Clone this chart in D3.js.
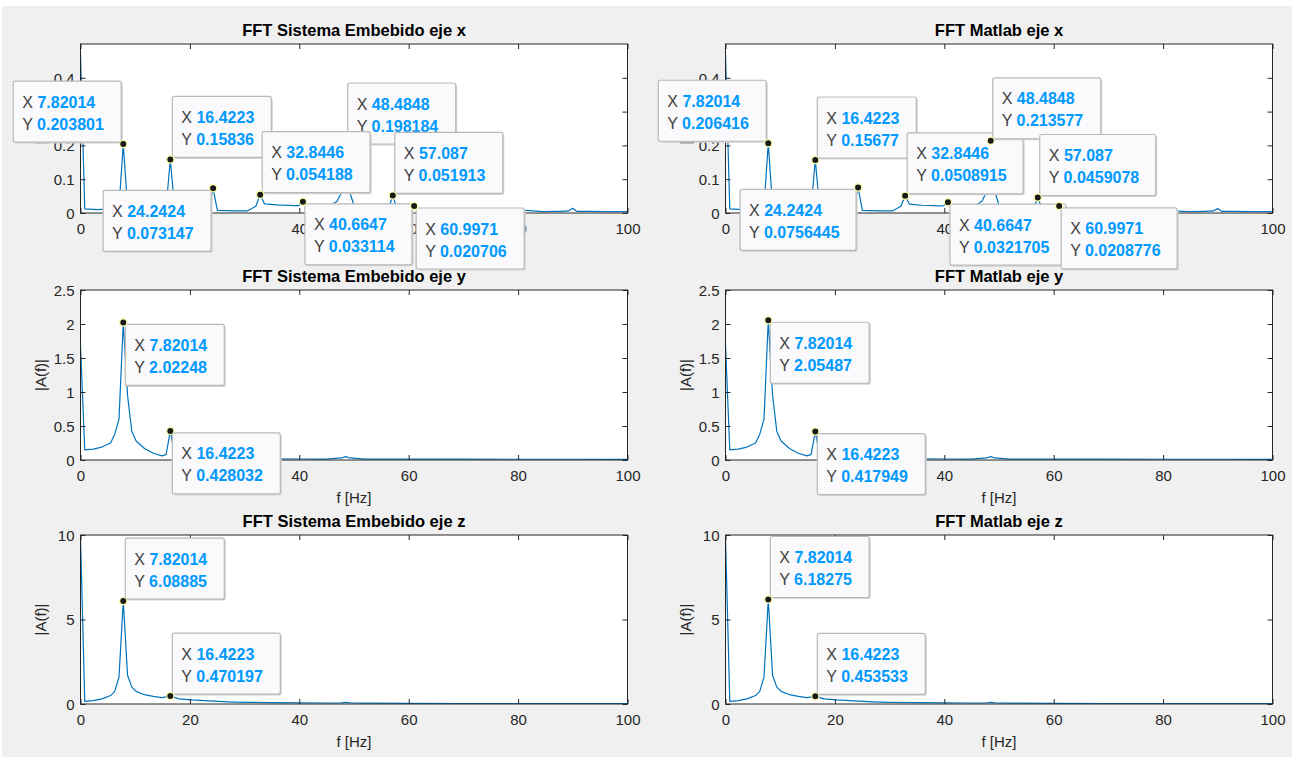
<!DOCTYPE html>
<html lang="en">
<head>
<meta charset="UTF-8">
<title>FFT eje x y z</title>
<script src="https://cdn.jsdelivr.net/npm/d3@7/dist/d3.min.js"></script>
<style>
    html, body { margin: 0; padding: 0; background: #fff; }
    svg text { font-family: "Liberation Sans", Arial, Helvetica, sans-serif; }
</style>
</head>
<body>
<svg id="fig" width="1294" height="757"></svg>
<script>
// ---- data ----
const xTicks = [0, 20, 40, 60, 80, 100];

// eje x
const fX = [0, 0.78, 3.1, 5.5, 7.04, 7.82014, 8.6, 10.9, 13.3, 15.64, 16.4223, 17.2, 20.3, 23.46, 24.2424, 25.02, 28.2, 30.5,
    32.06, 32.8446, 33.63, 36.0, 39.1, 39.88, 40.6647, 41.45, 43.0, 45.4, 46.9, 47.7, 48.4848, 49.26, 50.05, 51.6, 53.2,
    55.5, 56.3, 57.087, 57.87, 59.4, 60.2, 60.9971, 61.8, 64.9, 68.0, 71.9, 75.1, 78.2, 80.6, 81.4, 84.5, 87.6, 89.2,
    89.97, 90.7, 93.1, 96.2, 100];
const aXemb = [0.47, 0.012, 0.01, 0.012, 0.02, 0.203801, 0.02, 0.012, 0.01, 0.015, 0.15836, 0.015, 0.01, 0.012, 0.073147,
    0.008, 0.006, 0.006, 0.02, 0.054188, 0.027, 0.024, 0.022, 0.022, 0.033114, 0.02, 0.015, 0.02, 0.035, 0.06, 0.198184,
    0.06, 0.02, 0.012, 0.01, 0.008, 0.012, 0.051913, 0.012, 0.008, 0.008, 0.020706, 0.006, 0.005, 0.006, 0.004, 0.005,
    0.004, 0.004, 0.008, 0.004, 0.005, 0.006, 0.014, 0.005, 0.005, 0.004, 0.004];
const aXmat = [0.47, 0.012, 0.01, 0.012, 0.02, 0.206416, 0.02, 0.012, 0.01, 0.015, 0.15677, 0.015, 0.01, 0.012, 0.0756445,
    0.008, 0.006, 0.006, 0.02, 0.0508915, 0.026, 0.023, 0.021, 0.022, 0.0321705, 0.02, 0.015, 0.02, 0.035, 0.062, 0.213577,
    0.062, 0.02, 0.012, 0.01, 0.008, 0.012, 0.0459078, 0.012, 0.008, 0.008, 0.0208776, 0.006, 0.005, 0.006, 0.004, 0.005,
    0.004, 0.004, 0.007, 0.004, 0.005, 0.006, 0.013, 0.005, 0.005, 0.004, 0.004];
const tipFX = [7.82014, 16.4223, 24.2424, 32.8446, 40.6647, 48.4848, 57.087, 60.9971];
const tipAXemb = [0.203801, 0.15836, 0.073147, 0.054188, 0.033114, 0.198184, 0.051913, 0.020706];
const tipAXmat = [0.206416, 0.15677, 0.0756445, 0.0508915, 0.0321705, 0.213577, 0.0459078, 0.0208776];
const yTicksX = [0, 0.1, 0.2, 0.3, 0.4];

// eje y
const fY = [0, 0.78, 2.35, 3.9, 5.5, 6.26, 7.04, 7.82014, 8.6, 9.38, 10.17, 11.7, 13.3, 14.9, 15.64, 16.4223, 17.2, 18.0,
    20.3, 25, 30, 35, 40, 45, 47.7, 48.48, 49.26, 52, 60, 70, 80, 90, 100];
const aYemb = [1.68, 0.15, 0.16, 0.19, 0.25, 0.38, 0.6, 2.02248, 0.95, 0.42, 0.28, 0.17, 0.1, 0.06, 0.08, 0.428032, 0.07,
    0.035, 0.025, 0.02, 0.018, 0.016, 0.015, 0.014, 0.03, 0.05, 0.03, 0.013, 0.012, 0.012, 0.011, 0.011, 0.01];
const aYmat = [1.7, 0.15, 0.16, 0.19, 0.25, 0.38, 0.6, 2.05487, 0.96, 0.42, 0.28, 0.17, 0.1, 0.06, 0.08, 0.417949, 0.07,
    0.035, 0.025, 0.02, 0.018, 0.016, 0.015, 0.014, 0.03, 0.05, 0.03, 0.013, 0.012, 0.012, 0.011, 0.011, 0.01];
const tipFY = [7.82014, 16.4223];
const tipAYemb = [2.02248, 0.428032];
const tipAYmat = [2.05487, 0.417949];
const yTicksY = [0, 0.5, 1, 1.5, 2, 2.5];

// eje z
const fZ = [0, 0.78, 2.35, 3.9, 5.5, 6.26, 7.04, 7.82014, 8.6, 9.38, 10.17, 11.7, 13.3, 14.9, 16.4223, 18.0, 20.3, 23.5,
    27, 30, 35, 40, 45, 47.7, 48.48, 49.26, 52, 60, 70, 80, 90, 100];
const aZemb = [9.9, 0.15, 0.2, 0.3, 0.5, 0.75, 1.6, 6.08885, 1.7, 1.0, 0.75, 0.55, 0.45, 0.38, 0.470197, 0.3, 0.24, 0.18,
    0.13, 0.1, 0.08, 0.07, 0.06, 0.07, 0.1, 0.07, 0.05, 0.04, 0.03, 0.03, 0.02, 0.02];
const aZmat = [9.9, 0.15, 0.2, 0.3, 0.5, 0.75, 1.6, 6.18275, 1.7, 1.0, 0.75, 0.55, 0.45, 0.38, 0.453533, 0.3, 0.24, 0.18,
    0.13, 0.1, 0.08, 0.07, 0.06, 0.07, 0.1, 0.07, 0.05, 0.04, 0.03, 0.03, 0.02, 0.02];
const tipFZ = [7.82014, 16.4223];
const tipAZemb = [6.08885, 0.470197];
const tipAZmat = [6.18275, 0.453533];
const yTicksZ = [0, 5, 10];

// ---- layout ----
const cols = [[80.5, 627.5], [725.5, 1272.5]];
const rows = [[44, 213], [290, 460], [535, 704]];

// datatip placement (ul, ur, ll, lr) and draw order per panel
const panels = [
    {title: "FFT Sistema Embebido eje x", c: 0, r: 0, f: fX, a: aXemb, tf: tipFX, ta: tipAXemb, ymax: 0.5, yt: yTicksX,
        xlab: false, dir: ["ul", "ur", "ll", "ur", "lr", "ur", "ur", "lr"], order: [0, 1, 5, 2, 3, 4, 6, 7]},
    {title: "FFT Matlab eje x", c: 1, r: 0, f: fX, a: aXmat, tf: tipFX, ta: tipAXmat, ymax: 0.5, yt: yTicksX,
        xlab: false, dir: ["ul", "ur", "ll", "ur", "lr", "ur", "ur", "lr"], order: [0, 1, 2, 3, 5, 4, 6, 7]},
    {title: "FFT Sistema Embebido eje y", c: 0, r: 1, f: fY, a: aYemb, tf: tipFY, ta: tipAYemb, ymax: 2.5, yt: yTicksY,
        xlab: true, dir: ["lr", "lr"], order: [0, 1]},
    {title: "FFT Matlab eje y", c: 1, r: 1, f: fY, a: aYmat, tf: tipFY, ta: tipAYmat, ymax: 2.5, yt: yTicksY,
        xlab: true, dir: ["lr", "lr"], order: [0, 1]},
    {title: "FFT Sistema Embebido eje z", c: 0, r: 2, f: fZ, a: aZemb, tf: tipFZ, ta: tipAZemb, ymax: 10, yt: yTicksZ,
        xlab: true, dir: ["ur", "ur"], order: [0, 1]},
    {title: "FFT Matlab eje z", c: 1, r: 2, f: fZ, a: aZmat, tf: tipFZ, ta: tipAZmat, ymax: 10, yt: yTicksZ,
        xlab: true, dir: ["ur", "ur"], order: [0, 1]}
];

const svg = d3.select("#fig");
svg.append("rect").attr("x", 2).attr("y", 6).attr("width", 1290).attr("height", 751).attr("fill", "#f0f0f0");

const axisColor = "#262626";
const fmtTick = d3.format("~g");
const fmtTip = d3.format(".6~g");
const tipLayer = [];

panels.forEach((p, i) => {
    const [x0, x1] = cols[p.c];
    const [y0, y1] = rows[p.r];
    const x = d3.scaleLinear().domain([0, 100]).range([x0, x1]);
    const y = d3.scaleLinear().domain([0, p.ymax]).range([y1, y0]);
    const g = svg.append("g");

    g.append("rect").attr("x", x0).attr("y", y0).attr("width", x1 - x0).attr("height", y1 - y0).attr("fill", "#fff");

    g.append("clipPath").attr("id", "clip" + i)
        .append("rect").attr("x", x0).attr("y", y0).attr("width", x1 - x0).attr("height", y1 - y0);

    const pts = p.f.map((f, k) => [f, p.a[k]]);
    g.append("path")
        .datum(pts)
        .attr("clip-path", "url(#clip" + i + ")")
        .attr("fill", "none")
        .attr("stroke", "#0072BD")
        .attr("stroke-width", 1.2)
        .attr("stroke-linejoin", "round")
        .attr("d", d3.line().x(d => x(d[0])).y(d => y(d[1])));

    // ticks inside on all four sides
    const tl = 5;
    const ax = [
        d3.axisBottom(x).tickValues(xTicks).tickSizeInner(-tl).tickSizeOuter(0).tickFormat(fmtTick),
        d3.axisTop(x).tickValues(xTicks).tickSizeInner(-tl).tickSizeOuter(0).tickFormat(""),
        d3.axisLeft(y).tickValues(p.yt).tickSizeInner(-tl).tickSizeOuter(0).tickFormat(fmtTick),
        d3.axisRight(y).tickValues(p.yt).tickSizeInner(-tl).tickSizeOuter(0).tickFormat("")
    ];
    const trans = [[0, y1], [0, y0], [x0, 0], [x1, 0]];
    ax.forEach((a, k) => {
        const ag = g.append("g").attr("transform", `translate(${trans[k][0]},${trans[k][1]})`).call(a);
        ag.select(".domain").remove();
        ag.selectAll("line").attr("stroke", axisColor);
        ag.selectAll("text").attr("fill", axisColor).style("font-size", "15px");
        if (k === 0) ag.selectAll("text").attr("dy", null).attr("y", 21);
        if (k === 2) ag.selectAll("text").attr("x", -6).attr("dy", "0.35em");
    });
    g.append("rect").attr("x", x0).attr("y", y0).attr("width", x1 - x0).attr("height", y1 - y0)
        .attr("fill", "none").attr("stroke", axisColor).attr("stroke-width", 1);

    g.append("text").attr("x", (x0 + x1) / 2).attr("y", y0 - 8).attr("text-anchor", "middle")
        .attr("font-weight", "bold").style("font-size", "16.5px").attr("fill", "#000").text(p.title);
    if (p.xlab) {
        g.append("text").attr("x", (x0 + x1) / 2).attr("y", y1 + 43).attr("text-anchor", "middle")
            .style("font-size", "15px").attr("fill", axisColor).text("f [Hz]");
    }
    g.append("text").attr("transform", `translate(${x0 - 35},${(y0 + y1) / 2}) rotate(-90)`)
        .attr("text-anchor", "middle").style("font-size", "15px").attr("fill", axisColor).text("|A(f)|");

    p.order.forEach(k => tipLayer.push({x: x(p.tf[k]), y: y(p.ta[k]), fx: p.tf[k], fy: p.ta[k], dir: p.dir[k]}));
});

// datatips on top of everything
const tipH = 61;
tipLayer.forEach(t => {
    const g = svg.append("g");
    const box = g.append("rect").attr("rx", 2).attr("fill", "#fafafd").attr("stroke", "#b9b9b9").attr("stroke-width", 1.2);
    const shadow = g.insert("rect", "rect").attr("rx", 2).attr("fill", "#d4d4d4");
    const lines = [["X ", fmtTip(t.fx)], ["Y ", fmtTip(t.fy)]];
    const texts = lines.map((l, k) => {
        const tx = g.append("text").style("font-size", "16px");
        tx.append("tspan").attr("fill", "#404040").text(l[0]);
        tx.append("tspan").attr("fill", "#0099ff").attr("font-weight", "bold").text(l[1]);
        return tx;
    });
    const tw = d3.max(texts, tx => tx.node().getComputedTextLength());
    const w = Math.round(tw + 26);
    const left = t.dir[1] === "r" ? t.x + 2 : t.x - 2 - w;
    const top = t.dir[0] === "u" ? t.y - 2 - tipH : t.y + 2;
    box.attr("x", left).attr("y", top).attr("width", w).attr("height", tipH);
    shadow.attr("x", left + 1.5).attr("y", top + 1.5).attr("width", w).attr("height", tipH);
    texts.forEach((tx, k) => tx.attr("x", left + 9).attr("y", top + 26.5 + k * 22));
    g.append("circle").attr("cx", t.x).attr("cy", t.y).attr("r", 3.6)
        .attr("fill", "#1a1a1a").attr("stroke", "#ffffa8").attr("stroke-width", 1.2);
});
</script>
</body>
</html>
